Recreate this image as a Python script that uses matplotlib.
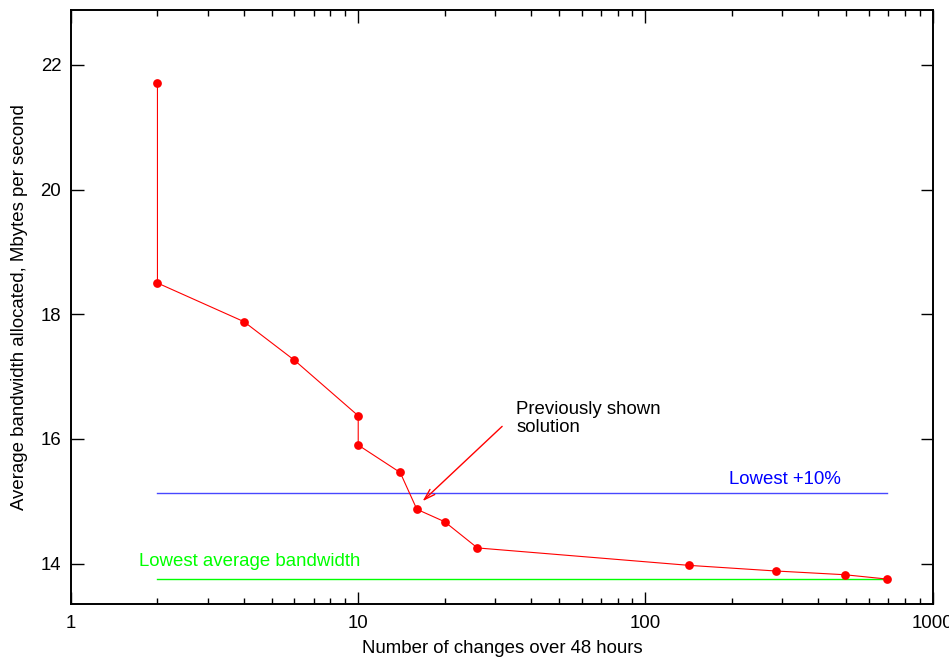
import matplotlib.pyplot as plt
from matplotlib.ticker import FixedLocator, FixedFormatter, LogLocator, NullFormatter

plt.rcParams['font.family'] = ['Liberation Sans', 'DejaVu Sans']

# Trade-off: number of bandwidth changes vs. average allocated bandwidth
changes = [2, 2, 4, 6, 10, 10, 14, 16, 20, 26, 142, 284, 494, 695]
bandwidth = [21.71, 18.50, 17.88, 17.26, 16.37, 15.90, 15.46, 14.87,
             14.67, 14.25, 13.97, 13.88, 13.82, 13.75]

lowest = 13.75
lowest_plus10 = lowest * 1.1
line_span = [2, 695]

x_ticks = [1, 10, 100, 1000]
x_tick_labels = ['1', '10', '100', '1000']
y_ticks = [14, 16, 18, 20, 22]

fs = 13.4

fig = plt.figure(figsize=(9.49, 6.61), dpi=100)
ax = fig.add_axes([0.0748, 0.0862, 0.908, 0.8987])

ax.plot(line_span, [lowest_plus10] * 2, color='#4848ff', lw=1.0)
ax.plot(line_span, [lowest] * 2, color='#00ff00', lw=1.0)
ax.plot(changes, bandwidth, color='red', lw=0.8, marker='o',
        markersize=6.3, markeredgewidth=0, zorder=3)

ax.set_xscale('log')
ax.set_xlim(1, 1000)
ax.set_ylim(13.35, 22.88)

ax.xaxis.set_major_locator(FixedLocator(x_ticks))
ax.xaxis.set_major_formatter(FixedFormatter(x_tick_labels))
ax.xaxis.set_minor_locator(LogLocator(base=10, subs=range(2, 10)))
ax.xaxis.set_minor_formatter(NullFormatter())
ax.set_yticks(y_ticks)

ax.tick_params(which='both', direction='in', top=True, right=True,
               labelsize=fs, width=1.0, colors='black')
ax.tick_params(which='major', length=9, pad=8)
ax.tick_params(which='minor', length=4.5)
ax.tick_params(axis='y', pad=7)
for side in ax.spines.values():
    side.set_linewidth(1.4)

ax.set_xlabel('Number of changes over 48 hours', fontsize=fs, labelpad=6)
ax.set_ylabel('Average bandwidth allocated, Mbytes per second', fontsize=fs,
              labelpad=9)

ax.text(196, 15.35, 'Lowest +10%', color='#0000ff', fontsize=fs,
        ha='left', va='center')
ax.text(1.73, 14.03, 'Lowest average bandwidth', color='#00ff00',
        fontsize=fs, ha='left', va='center')
ax.text(35.5, 16.33, 'Previously shown\nsolution', color='black',
        fontsize=fs, ha='left', va='center', linespacing=1.05)
ax.annotate('', xy=(16.75, 15.0), xytext=(31.7, 16.2),
            arrowprops=dict(arrowstyle='->,head_length=0.8,head_width=0.25',
                            color='red', lw=1.0, shrinkA=0, shrinkB=0))

fig.savefig('out.png', dpi=100)
